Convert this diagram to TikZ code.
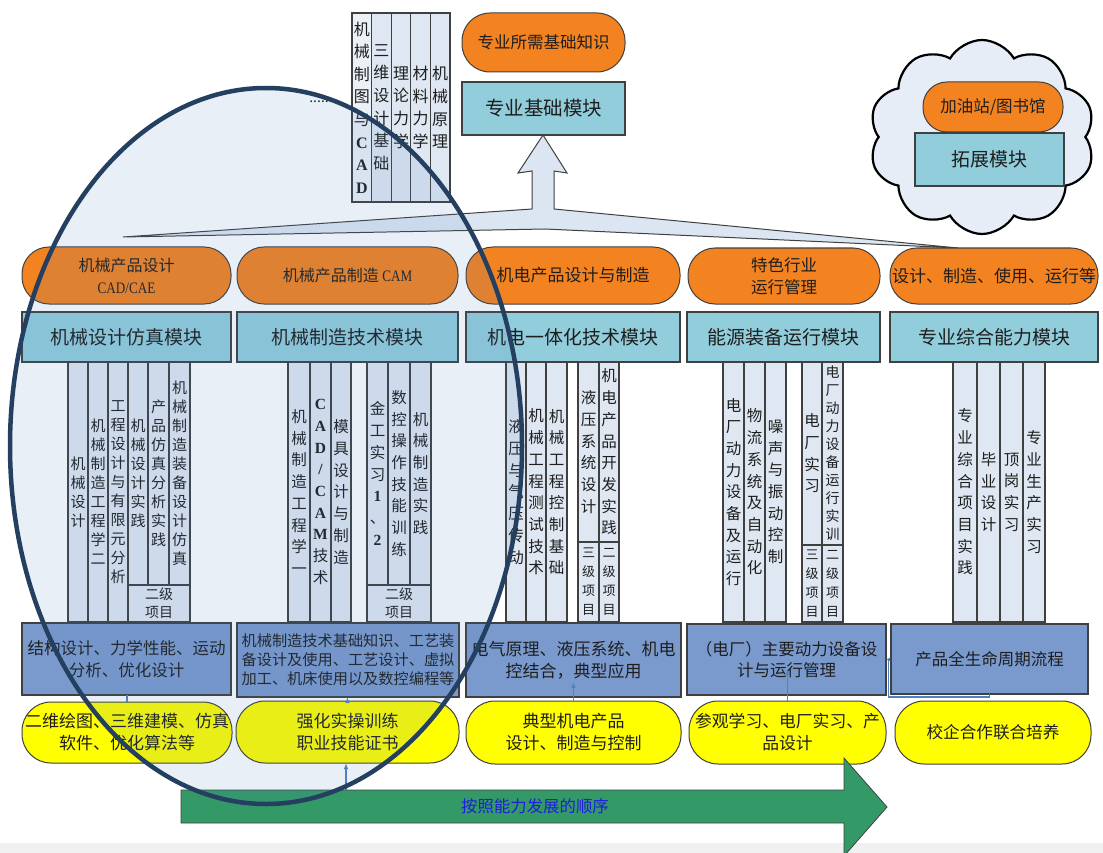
\documentclass[tikz,border=0pt]{standalone}
\usepackage{fontspec}
\setmainfont{Noto Sans CJK SC}
\newfontfamily\latf{Liberation Serif}
\newfontfamily\latn[FakeStretch=0.82]{Liberation Serif}
\usetikzlibrary{arrows.meta,shapes.symbols}

\definecolor{ink}{RGB}{30,30,30}
\definecolor{edge}{RGB}{64,64,64}
\definecolor{orangefill}{RGB}{243,130,32}
\definecolor{modfill}{RGB}{146,205,220}
\definecolor{colfill}{RGB}{222,231,242}
\definecolor{colfilllight}{RGB}{236,241,248}
\definecolor{bluefill}{RGB}{122,154,206}
\definecolor{yellowfill}{RGB}{255,255,0}
\definecolor{cloudfill}{RGB}{230,237,247}
\definecolor{linkblue}{RGB}{79,129,189}
\definecolor{tint}{RGB}{79,129,189}
\definecolor{ringcol}{RGB}{36,63,96}
\definecolor{arrowgreen}{RGB}{51,153,102}
\definecolor{arrowtext}{RGB}{30,30,220}
\definecolor{bandgray}{RGB}{240,240,240}
\definecolor{calloutfill}{RGB}{220,230,242}

% box given by its corners (x1,y1) and (x2,y2), in pixel units
\newcommand\placebox[7][]{%
  \pgfmathsetmacro\plX{(#3+#5)/2}%
  \pgfmathsetmacro\plY{(#4+#6)/2}%
  \pgfmathsetmacro\plW{#5-#3}%
  \pgfmathsetmacro\plH{#6-#4}%
  \node[#1, minimum width=\plW pt, minimum height=\plH pt] (#2) at (\plX,\plY) {#7};}

\newcommand\serifb[1]{{\latf\bfseries #1}}

\tikzset{
  base/.style={inner sep=0pt, outer sep=0pt, align=center, text=ink},
  pill/.style={base, draw=edge, line width=1pt, rounded corners=27pt},
  orangepill/.style={pill, fill=orangefill, font=\fontsize{16}{22}\selectfont},
  yellowpill/.style={pill, fill=yellowfill, rounded corners=29pt, font=\fontsize{17}{22}\selectfont},
  modbox/.style={base, draw=edge, line width=1.2pt, fill=modfill, font=\fontsize{19}{23}\selectfont},
  bluebox/.style={base, draw=edge, line width=1.2pt, fill=bluefill, font=\fontsize{16.5}{21.5}\selectfont},
  colbox/.style={base, draw=edge, line width=1.1pt, fill=colfill, font=\fontsize{15.5}{21.7}\selectfont},
  tight/.style={font=\fontsize{15}{19}\selectfont},
  lvl/.style={font=\fontsize{14}{18}\selectfont},
  lvlv/.style={font=\fontsize{13}{19}\selectfont},
  topcol/.style={colbox, font=\fontsize{16}{22.6}\selectfont},
  link/.style={draw=linkblue, line width=1.1pt},
  linkarrow/.style={link, -{Latex[length=6pt,width=4.5pt]}},
}

\begin{document}
\begin{tikzpicture}[x=1pt,y=-1pt]
\useasboundingbox (0,0) rectangle (1103,853);
\fill[white] (0,0) rectangle (1103,853);

% ---------- top: basic knowledge ----------
\placebox[topcol, fill=colfilllight]{t1}{352}{13}{371.6}{202}{机\\械\\制\\图\\与\\\serifb{C}\\\serifb{A}\\\serifb{D}}
\placebox[topcol]{t2}{371.6}{13}{391.2}{202}{三\\维\\设\\计\\基\\础}
\placebox[topcol]{t3}{391.2}{13}{410.8}{202}{理\\论\\力\\学}
\placebox[topcol]{t4}{410.8}{13}{430.4}{202}{材\\料\\力\\学}
\placebox[topcol]{t5}{430.4}{13}{450}{202}{机\\械\\原\\理}
\node[base, font=\fontsize{14}{16}\selectfont] (dots) at (321,102) {......};

\placebox[orangepill, rounded corners=28pt, font=\fontsize{16.5}{20}\selectfont]{topknow}{462}{13}{625}{72}{专业所需基础知识}
\placebox[modbox, font=\fontsize{19.5}{23}\selectfont]{basemod}{462}{82}{625}{135}{专业基础模块}

% up arrow spreading into the five directions
\filldraw[fill=calloutfill, draw=edge, line width=1pt, line join=miter]
  (543,135) -- (567,173) -- (554,171) -- (554,209) -- (958,248)
  -- (545,229) -- (123,237) -- (532,209) -- (532,171) -- (518,173) -- cycle;

% ---------- cloud: extension module ----------
\node[cloud, cloud puffs=10, cloud puff arc=120, aspect=1.18, draw=black,
      line width=2.2pt, fill=cloudfill, minimum width=226pt, minimum height=194pt,
      inner sep=0pt] (cloud) at (982,137) {};
\placebox[orangepill, rounded corners=24pt, font=\fontsize{16.5}{20}\selectfont]{station}{923}{82}{1063}{132}{加油站/图书馆}
\placebox[modbox]{extmod}{915}{133}{1064}{186}{拓展模块}

% ---------- orange direction pills ----------
\placebox[orangepill]{p1}{22}{247}{231}{304}{机械产品设计\\{\latn CAD/CAE}}
\placebox[orangepill]{p2}{237}{247}{458}{304}{机械产品制造~{\latn CAM}}
\placebox[orangepill, font=\fontsize{17}{22}\selectfont]{p3}{466}{247}{680}{304}{机电产品设计与制造}
\placebox[orangepill, font=\fontsize{16.5}{22}\selectfont]{p4}{688}{248}{880}{304}{特色行业\\运行管理}
\placebox[orangepill, font=\fontsize{17}{22}\selectfont]{p5}{890}{248}{1098}{304}{设计、制造、使用、运行等}

% ---------- module boxes ----------
\placebox[modbox]{m1}{22}{312}{231}{362}{机械设计仿真模块}
\placebox[modbox]{m2}{237}{312}{458}{362}{机械制造技术模块}
\placebox[modbox]{m3}{466}{312}{680}{362}{机电一体化技术模块}
\placebox[modbox]{m4}{687}{312}{880}{362}{能源装备运行模块}
\placebox[modbox]{m5}{890}{312}{1098}{362}{专业综合能力模块}

% ---------- course columns ----------
% mechanical design and simulation
\placebox[colbox,tight]{m1a}{68}{362}{88}{622}{机\\械\\设\\计}
\placebox[colbox,tight]{m1b}{88}{362}{108}{622}{机\\械\\制\\造\\工\\程\\学\\二}
\placebox[colbox,tight]{m1c}{108}{362}{128}{622}{工\\程\\设\\计\\与\\有\\限\\元\\分\\析}
\placebox[colbox,tight]{m1d}{128}{362}{148}{585}{机\\械\\设\\计\\实\\践}
\placebox[colbox,tight]{m1e}{148}{362}{169}{585}{产\\品\\仿\\真\\分\\析\\实\\践}
\placebox[colbox,tight]{m1f}{169}{362}{190}{585}{机\\械\\制\\造\\装\\备\\设\\计\\仿\\真}
\placebox[colbox,lvl]{m1g}{128}{585}{190}{622}{二级\\项目}

% mechanical manufacturing
\placebox[colbox]{m2a}{288}{362}{310}{622}{机\\械\\制\\造\\工\\程\\学\\一}
\placebox[colbox]{m2b}{310}{362}{331}{622}{\serifb{C}\\\serifb{A}\\\serifb{D}\\\serifb{/}\\\serifb{C}\\\serifb{A}\\\serifb{M}\\技\\术}
\placebox[colbox]{m2c}{331}{362}{351}{622}{模\\具\\设\\计\\与\\制\\造}
\placebox[colbox]{m2d}{367}{362}{388}{585}{金\\工\\实\\习\\\serifb{1}\\、\\\serifb{2}}
\placebox[colbox]{m2e}{388}{362}{410}{585}{数\\控\\操\\作\\技\\能\\训\\练}
\placebox[colbox]{m2f}{410}{362}{431}{585}{机\\械\\制\\造\\实\\践}
\placebox[colbox,lvl]{m2g}{367}{585}{431}{622}{二级\\项目}

% mechatronics
\placebox[colbox]{m3a}{506}{362}{526}{622}{液\\压\\与\\气\\压\\传\\动}
\placebox[colbox]{m3b}{526}{362}{546}{622}{机\\械\\工\\程\\测\\试\\技\\术}
\placebox[colbox]{m3c}{546}{362}{567}{622}{机\\械\\工\\程\\控\\制\\基\\础}
\placebox[colbox]{m3d}{578}{362}{599}{542}{液\\压\\系\\统\\设\\计}
\placebox[colbox]{m3e}{599}{362}{619}{542}{机\\电\\产\\品\\开\\发\\实\\践}
\placebox[colbox,lvlv]{m3f}{578}{542}{599}{622}{三\\级\\项\\目}
\placebox[colbox,lvlv]{m3g}{599}{542}{619}{622}{二\\级\\项\\目}

% energy equipment operation
\placebox[colbox]{m4a}{723}{362}{744}{622}{电\\厂\\动\\力\\设\\备\\及\\运\\行}
\placebox[colbox]{m4b}{744}{362}{765}{622}{物\\流\\系\\统\\及\\自\\动\\化}
\placebox[colbox]{m4c}{765}{362}{786}{622}{噪\\声\\与\\振\\动\\控\\制}
\placebox[colbox]{m4d}{802}{362}{822}{545}{电\\厂\\实\\习}
\placebox[colbox,font=\fontsize{14}{18}\selectfont]{m4e}{822}{362}{843}{545}{电\\厂\\动\\力\\设\\备\\运\\行\\实\\训}
\placebox[colbox,lvlv]{m4f}{802}{545}{822}{622}{三\\级\\项\\目}
\placebox[colbox,lvlv]{m4g}{822}{545}{843}{622}{二\\级\\项\\目}

% comprehensive ability
\placebox[colbox]{m5a}{953}{362}{977}{622}{专\\业\\综\\合\\项\\目\\实\\践}
\placebox[colbox]{m5b}{977}{362}{1000}{622}{毕\\业\\设\\计}
\placebox[colbox]{m5c}{1000}{362}{1023}{622}{顶\\岗\\实\\习}
\placebox[colbox]{m5d}{1023}{362}{1045}{622}{专\\业\\生\\产\\实\\习}

% ---------- content boxes ----------
\placebox[bluebox]{b1}{22}{623}{231}{695}{结构设计、力学性能、运动\\分析、优化设计}
\placebox[bluebox, font=\fontsize{15.2}{19}\selectfont]{b2}{237}{623}{459}{697}{机械制造技术基础知识、工艺装\\备设计及使用、工艺设计、虚拟\\加工、机床使用以及数控编程等}
\placebox[bluebox, font=\fontsize{17}{22}\selectfont]{b3}{466}{623}{681}{697}{电气原理、液压系统、机电\\控结合，典型应用}
\placebox[bluebox]{b4}{687}{624}{886}{695}{（电厂）主要动力设备设\\计与运行管理}
\placebox[bluebox]{b5}{891}{624}{1088}{694}{产品全生命周期流程}

% ---------- training forms ----------
\placebox[yellowpill]{y1}{22}{702}{232}{763}{二维绘图、三维建模、仿真\\软件、优化算法等}
\placebox[yellowpill]{y2}{236}{701}{459}{763}{强化实操训练\\职业技能证书}
\placebox[yellowpill]{y3}{466}{701}{681}{764}{典型机电产品\\设计、制造与控制}
\placebox[yellowpill, font=\fontsize{16.8}{22}\selectfont]{y4}{689}{701}{886}{764}{参观学习、电厂实习、产\\品设计}
\placebox[yellowpill, font=\fontsize{16.6}{22}\selectfont]{y5}{895}{701}{1091}{764}{校企合作联合培养}

% ---------- progression arrow ----------
\fill[bandgray] (0,843) rectangle (1103,853);
\filldraw[fill=arrowgreen, draw=edge, line width=0.8pt]
  (181,790) -- (844,790) -- (844,758) -- (887,807) -- (844,856) -- (844,823) -- (181,823) -- cycle;
\node[base, text=arrowtext, font=\fontsize{16.4}{20}\selectfont] (order) at (535,806) {按照能力发展的顺序};
\coordinate (gtop) at (346,790);

% ---------- links ----------
\draw[link] (y1.north) -- (y1.north |- b1.south);
\draw[linkarrow] (y2.north) -- (y2.north |- b2.south);
\draw[linkarrow] (gtop) -- (gtop |- y2.south);
\draw[linkarrow] (y3.north) -- ++(0,-19);
\draw[linkarrow] (y4.north) -- ++(0,-32);
\draw[link, -{Latex[length=4pt,width=4pt]}] (b5.south) -- ++(0,3) -| ([xshift=2.5pt]b4.east) -- (b4.east);

% ---------- highlighted group ----------
\draw[draw=ringcol, line width=4.5pt, fill=tint, fill opacity=0.12]
  (266,446) ellipse [x radius=256, y radius=358];
\end{tikzpicture}
\end{document}
